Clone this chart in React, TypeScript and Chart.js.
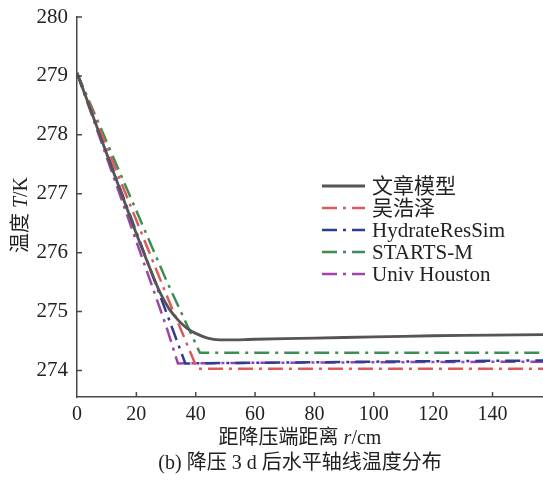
import React, { useEffect, useRef } from "react";
import { Chart, registerables } from "chart.js";

Chart.register(...registerables);

// ---------- data ----------
const seriesNames = ["文章模型", "吴浩泽", "HydrateResSim", "STARTS-M", "Univ Houston"];

const modelX = [0, 5, 10, 15, 20, 25, 28, 31, 34, 37, 40, 44, 48, 60, 80, 100, 120, 140, 157];
const modelY = [279.05, 278.37, 277.68, 277.0, 276.32, 275.68, 275.32, 275.05, 274.86, 274.72, 274.63, 274.55, 274.52, 274.53, 274.55, 274.57, 274.59, 274.6, 274.61];

const wuX = [0, 10, 20, 30, 40.5, 60, 100, 157];
const wuY = [279.05, 277.8, 276.55, 275.3, 274.03, 274.03, 274.03, 274.03];

const hrsX = [0, 10, 20, 30, 36.5, 60, 100, 157];
const hrsY = [279.05, 277.7, 276.35, 275.0, 274.12, 274.13, 274.15, 274.17];

const startsX = [0, 10, 20, 30, 41.4, 60, 100, 157];
const startsY = [279.05, 277.88, 276.71, 275.54, 274.3, 274.3, 274.3, 274.3];

const houstonX = [0, 10, 20, 30, 34, 60, 100, 157];
const houstonY = [279.05, 277.62, 276.19, 274.76, 274.12, 274.13, 274.14, 274.15];

const xTicks = [0, 20, 40, 60, 80, 100, 120, 140];
const yTicks = [274, 275, 276, 277, 278, 279, 280];

const xTitle = [{ t: "距降压端距离 " }, { t: "r", i: true }, { t: "/cm" }];
const yTitle = [{ t: "温度 " }, { t: "T", i: true }, { t: "/K" }];
const caption = [{ t: "(b) 降压 3 d 后水平轴线温度分布" }];

// ---------- styles ----------
const FONT = '"Liberation Serif", "Times New Roman", "Noto Sans CJK SC", serif';
const AXIS = "#4a4a4a";
const TEXT = "#222";
const DASH = [15, 6, 3, 6];

const colors = ["#555555", "#dd5a5a", "#2c3f8f", "#3f8d52", "#a043aa"];

const toPts = (xs: number[], ys: number[]) => xs.map((x, k) => ({ x, y: ys[k] }));

function drawRich(ctx: CanvasRenderingContext2D, segs: { t: string; i?: boolean }[], size: number) {
  const widths = segs.map((s) => {
    ctx.font = `${s.i ? "italic " : ""}${size}px ${FONT}`;
    return ctx.measureText(s.t).width;
  });
  const total = widths.reduce((a, b) => a + b, 0);
  let x = -total / 2;
  ctx.textBaseline = "middle";
  ctx.textAlign = "left";
  segs.forEach((s, k) => {
    ctx.font = `${s.i ? "italic " : ""}${size}px ${FONT}`;
    ctx.fillText(s.t, x, 0);
    x += widths[k];
  });
}

const decorPlugin = {
  id: "decor",
  afterDraw(chart: any) {
    const ctx: CanvasRenderingContext2D = chart.ctx;
    const xs = chart.scales.x;
    const ys = chart.scales.y;
    const area = chart.chartArea;
    ctx.save();
    // inward ticks
    ctx.strokeStyle = AXIS;
    ctx.lineWidth = 1.5;
    ctx.beginPath();
    xTicks.forEach((v) => {
      if (v === 0) return;
      const p = xs.getPixelForValue(v);
      ctx.moveTo(p, area.bottom);
      ctx.lineTo(p, area.bottom - 5);
    });
    yTicks.forEach((v) => {
      const p = ys.getPixelForValue(v);
      ctx.moveTo(area.left, p);
      ctx.lineTo(area.left + 5, p);
    });
    ctx.stroke();

    // titles
    ctx.fillStyle = TEXT;
    ctx.save();
    ctx.translate(300, 439);
    drawRich(ctx, xTitle, 20);
    ctx.restore();
    ctx.save();
    ctx.translate(300, 464);
    drawRich(ctx, caption, 20);
    ctx.restore();
    ctx.save();
    ctx.translate(22, 215);
    ctx.rotate(-Math.PI / 2);
    drawRich(ctx, yTitle, 20);
    ctx.restore();

    // legend
    const lx0 = 322;
    const lx1 = 365;
    const tx = 372;
    chart.data.datasets.forEach((ds: any, k: number) => {
      const y = 186 + k * 22;
      ctx.strokeStyle = ds.borderColor;
      ctx.lineWidth = ds.borderWidth;
      ctx.setLineDash(ds.borderDash || []);
      ctx.beginPath();
      ctx.moveTo(lx0, y);
      ctx.lineTo(lx1, y);
      ctx.stroke();
      ctx.setLineDash([]);
      ctx.fillStyle = TEXT;
      ctx.font = `21px ${FONT}`;
      ctx.textAlign = "left";
      ctx.textBaseline = "middle";
      ctx.fillText(ds.label, tx, y + 1);
    });
    ctx.restore();
  },
};

export default function App() {
  const ref = useRef<HTMLCanvasElement | null>(null);
  useEffect(() => {
    if (!ref.current) return;
    const xsArr = [modelX, wuX, hrsX, startsX, houstonX];
    const ysArr = [modelY, wuY, hrsY, startsY, houstonY];
    const chart = new Chart(ref.current, {
      type: "line",
      data: {
        datasets: seriesNames.map((name, k) => ({
          label: name,
          data: toPts(xsArr[k], ysArr[k]),
          borderColor: colors[k],
          backgroundColor: colors[k],
          borderWidth: k === 0 ? 2.8 : 2.5,
          borderDash: k === 0 ? [] : DASH,
          pointRadius: 0,
          tension: k === 0 ? 0.3 : 0,
          fill: false,
        })),
      },
      options: {
        animation: false,
        responsive: false,
        maintainAspectRatio: false,
        layout: { padding: { top: 17, left: 0, right: 0, bottom: 0 } },
        plugins: { legend: { display: false }, tooltip: { enabled: false }, title: { display: false } },
        scales: {
          x: {
            type: "linear",
            min: 0,
            max: 157,
            grid: { display: false, drawTicks: false },
            border: { display: true, color: AXIS, width: 1.5 },
            ticks: { padding: 6, color: TEXT, font: { family: FONT, size: 20 }, maxRotation: 0 },
            afterBuildTicks: (s: any) => {
              s.ticks = xTicks.map((v) => ({ value: v }));
            },
            afterFit: (s: any) => {
              s.height = 86;
              s.paddingLeft = 0;
              s.paddingRight = 0;
            },
          },
          y: {
            type: "linear",
            min: 273.55,
            max: 280,
            grid: { display: false, drawTicks: false },
            border: { display: true, color: AXIS, width: 1.5 },
            ticks: { padding: 9, color: TEXT, font: { family: FONT, size: 21 } },
            afterBuildTicks: (s: any) => {
              s.ticks = yTicks.map((v) => ({ value: v }));
            },
            afterFit: (s: any) => {
              s.width = 77;
              s.paddingTop = 0;
              s.paddingBottom = 0;
            },
          },
        },
      },
      plugins: [decorPlugin],
    } as any);
    return () => chart.destroy();
  }, []);
  return (
    <div style={{ position: "fixed", left: 0, top: 0, width: 543, height: 483, background: "#fff" }}>
      <canvas ref={ref} width={543} height={483} style={{ display: "block", width: 543, height: 483 }} />
    </div>
  );
}
